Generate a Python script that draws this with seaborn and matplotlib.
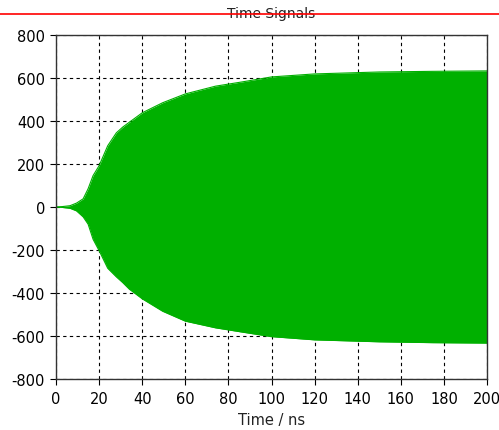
import matplotlib
matplotlib.use("Agg")
import matplotlib.pyplot as plt
import seaborn as sns
import numpy as np
import pandas as pd

# Envelope of the time signal
time_ns = [0, 3, 6.5, 9.5, 12.6, 14.9, 17.2, 20, 24, 28, 31, 34, 40, 49.5, 60, 74,
           86.5, 100, 120, 150, 175, 200]
upper = [0, 2, 6, 18, 38, 85, 146, 192, 285, 345, 372, 394, 438, 485, 526, 562,
         582, 605, 619, 628, 631, 633]
lower = [0, -2, -6, -18, -46, -80, -150, -203, -285, -325, -352, -382, -427, -485,
         -531, -562, -582, -603, -618, -627, -631, -633]

x_ticks = [0, 20, 40, 60, 80, 100, 120, 140, 160, 180, 200]
y_ticks = [-800, -600, -400, -200, 0, 200, 400, 600, 800]

df = pd.DataFrame({"t": time_ns, "upper": upper, "lower": lower})

sns.set_style("white")
plt.rcParams["font.family"] = ["DejaVu Sans"]
plt.rcParams["axes.unicode_minus"] = False

fig = plt.figure(figsize=(4.99, 4.31), dpi=100)
ax = fig.add_axes([56 / 499, 1 - 380 / 431, (487 - 56) / 499, (380 - 36) / 431])

green = "#00b000"
ax.fill_between(df["t"], df["lower"], df["upper"], color=green, lw=0, zorder=2)
sns.lineplot(data=df, x="t", y="upper", color=green, lw=0.8, ax=ax, zorder=2)
sns.lineplot(data=df, x="t", y="lower", color=green, lw=0.8, ax=ax, zorder=2)

ax.set_xlim(0, 200)
ax.set_ylim(-800, 800)
ax.set_xticks(x_ticks)
ax.set_yticks(y_ticks)
ax.tick_params(axis="both", direction="out", length=4, width=0.8, colors="black",
               labelsize=10.5, bottom=True, left=True)
ax.tick_params(axis="x", pad=5)
ax.tick_params(axis="y", pad=4)
ax.grid(True, color="black", linestyle=(0, (3, 3)), linewidth=0.8, zorder=1)
ax.set_axisbelow(True)
for s in ax.spines.values():
    s.set_color("#333333")
    s.set_linewidth(1.0)

ax.set_xlabel("Time / ns", fontsize=10.5, labelpad=4, color="#222222")
ax.set_ylabel("")

# Title with red line across the figure
fig.text(271.5 / 499, 1 - 14 / 431, "Time Signals", ha="center", va="center",
         fontsize=10, color="#222222", zorder=2)
fig.lines.append(plt.Line2D([0, 1], [1 - 15 / 431, 1 - 15 / 431], color="red",
                            lw=1.2, transform=fig.transFigure, zorder=3))

fig.savefig("out.png", dpi=100)
